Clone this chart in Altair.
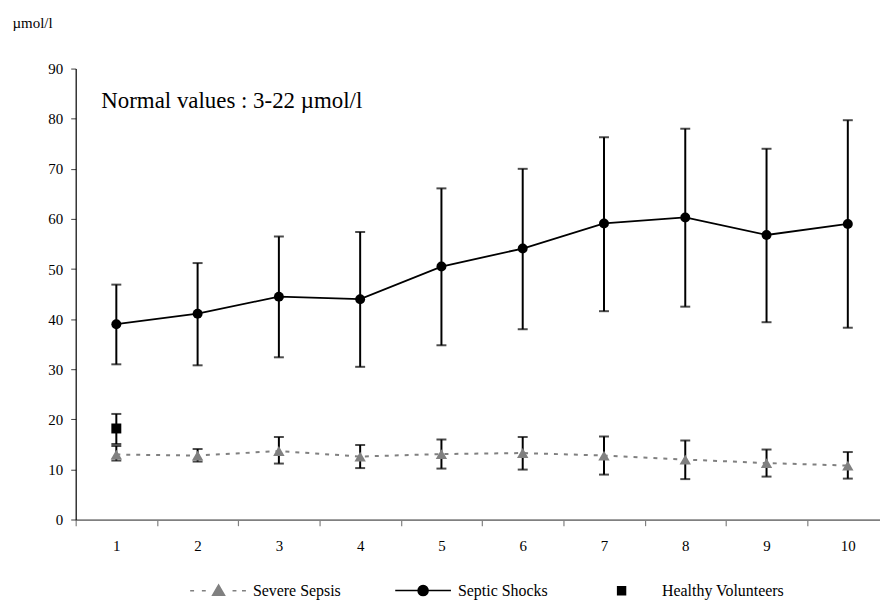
import altair as alt
import pandas as pd

days = [1, 2, 3, 4, 5, 6, 7, 8, 9, 10]
shock_mean = [39.0, 41.1, 44.5, 44.0, 50.5, 54.1, 59.1, 60.3, 56.8, 59.0]
shock_low = [31.0, 30.8, 32.4, 30.5, 34.8, 38.0, 41.6, 42.5, 39.4, 38.3]
shock_high = [46.9, 51.2, 56.5, 57.4, 66.1, 70.0, 76.3, 78.0, 74.0, 79.7]

sepsis_mean = [13.0, 12.8, 13.7, 12.6, 13.1, 13.3, 12.8, 12.0, 11.3, 10.8]
sepsis_low = [11.8, 11.6, 11.2, 10.3, 10.2, 10.0, 9.0, 8.1, 8.6, 8.2]
sepsis_high = [14.7, 14.1, 16.5, 14.9, 16.0, 16.5, 16.6, 15.8, 14.0, 13.5]

hv_day = [1]
hv_mean = [18.2]
hv_low = [15.1]
hv_high = [21.1]

series_names = ["Severe Sepsis", "Septic Shocks", "Healthy Volunteers"]
series_colors = ["#808080", "#000000", "#000000"]
legend_paths = [
    "M-1,0H-0.86M-0.58,0H-0.44M0.52,0H0.66M0.86,0H1"
    "M-0.19,0.16L0.02,-0.2L0.23,0.16Z",
    "M-1,0H1M-0.18,0A0.18,0.18,0,1,1,0.18,0A0.18,0.18,0,1,1,-0.18,0Z",
    "M-0.34,-0.14H-0.06V0.14H-0.34Z",
]

note_text = ["Normal values : 3-22 \u00b5mol/l"]
note_x = [0.815]
note_y = [82.2]

FONT = "Liberation Serif"

shock = pd.DataFrame({"day": days, "mean": shock_mean, "low": shock_low, "high": shock_high})
sepsis = pd.DataFrame({"day": days, "mean": sepsis_mean, "low": sepsis_low, "high": sepsis_high})
hv = pd.DataFrame({"day": hv_day, "mean": hv_mean, "low": hv_low, "high": hv_high})
names_df = pd.DataFrame({"series": series_names})
note_df = pd.DataFrame({"x": note_x, "y": note_y, "t": note_text})

x_scale = alt.Scale(domain=[0.5, 10.396], nice=False, zero=False)
y_scale = alt.Scale(domain=[0, 90], nice=False)

x_axis = alt.Axis(
    values=[0.5, 1, 1.5, 2, 2.5, 3, 3.5, 4, 4.5, 5, 5.5, 6, 6.5, 7, 7.5, 8, 8.5, 9, 9.5, 10],
    labelExpr="datum.value % 1 === 0 ? '' + datum.value : ''",
    tickOpacity={"condition": {"test": "datum.value % 1 === 0", "value": 0}, "value": 1},
    title=None, grid=False, tickSize=6, tickColor="#808080", tickWidth=1.2,
    domainColor="#808080", domainWidth=1.8, labelPadding=13,
    labelFont=FONT, labelFontSize=15, labelColor="#000000", labelFlush=False,
    labelOverlap=False,
)
y_axis = alt.Axis(
    values=[0, 10, 20, 30, 40, 50, 60, 70, 80, 90],
    title="\u00b5mol/l", titleAngle=0, titleAlign="left", titleBaseline="alphabetic",
    titleX=-64, titleY=-41, titleFont=FONT, titleFontSize=15, titleFontWeight="normal",
    titleColor="#000000",
    grid=False, tickSize=5, tickColor="#404040", domainColor="#000000", domainWidth=1.2,
    labelPadding=8, labelFont=FONT, labelFontSize=15, labelColor="#000000",
)


def X(field="day"):
    return alt.X(field, type="quantitative", scale=x_scale, axis=x_axis)


def Y(field):
    return alt.Y(field, type="quantitative", scale=y_scale, axis=y_axis)


def errbars(df):
    base = alt.Chart(df)
    rule = base.mark_rule(color="#000000", strokeWidth=2).encode(
        x=X(), y=Y("low"), y2="high")
    cap_lo = base.mark_tick(color="#000000", orient="horizontal", size=10, thickness=2).encode(
        x=X(), y=Y("low"))
    cap_hi = base.mark_tick(color="#000000", orient="horizontal", size=10, thickness=2).encode(
        x=X(), y=Y("high"))
    return [rule, cap_lo, cap_hi]


sep_line = alt.Chart(sepsis).mark_line(color="#808080", strokeWidth=2, strokeDash=[4, 6]).encode(
    x=X(), y=Y("mean"))
sep_pts = alt.Chart(sepsis).mark_point(shape="triangle-up", filled=True, color="#808080",
                                       opacity=1, size=130).encode(x=X(), y=Y("mean"))

shock_line = alt.Chart(shock).mark_line(color="#000000", strokeWidth=1.8).encode(
    x=X(), y=Y("mean"))
shock_pts = alt.Chart(shock).mark_point(shape="circle", filled=True, color="#000000",
                                        opacity=1, size=100).encode(x=X(), y=Y("mean"))

hv_pts = alt.Chart(hv).mark_point(shape="square", filled=True, color="#000000",
                                  opacity=1, size=100).encode(x=X(), y=Y("mean"))

note = alt.Chart(note_df).mark_text(align="left", baseline="alphabetic", font=FONT,
                                    fontSize=23, color="#000000").encode(
    x=X("x"), y=Y("y"), text="t:N")

leg = alt.Legend(
    title=None, orient="none", legendX=114, legendY=495, direction="horizontal",
    symbolSize=3136, labelOffset=6, columnPadding=50,
    symbolStrokeWidth=1.6, symbolOpacity=1,
    labelFont=FONT, labelFontSize=16, labelColor="#000000",
)
legend_layer = alt.Chart(names_df).mark_point(filled=True, opacity=0).encode(
    fill=alt.Fill("series:N", scale=alt.Scale(domain=series_names, range=series_colors),
                  legend=leg, sort=series_names),
    stroke=alt.Stroke("series:N", scale=alt.Scale(domain=series_names, range=series_colors),
                      legend=leg, sort=series_names),
    shape=alt.Shape("series:N", scale=alt.Scale(domain=series_names, range=legend_paths),
                    legend=leg, sort=series_names),
)

layers = errbars(sepsis) + [sep_line, sep_pts] + errbars(shock) + [shock_line, shock_pts] \
    + errbars(hv) + [hv_pts, note, legend_layer]

chart = alt.layer(*layers).properties(
    width=808, height=453.2, autosize=alt.AutoSizeParams(type="none"),
    padding={"left": 68, "top": 59.5, "right": 0, "bottom": 80},
).configure(font=FONT, background="#ffffff").configure_view(stroke=None)

chart.save("out.html", embed_options={"renderer": "svg", "actions": False})
